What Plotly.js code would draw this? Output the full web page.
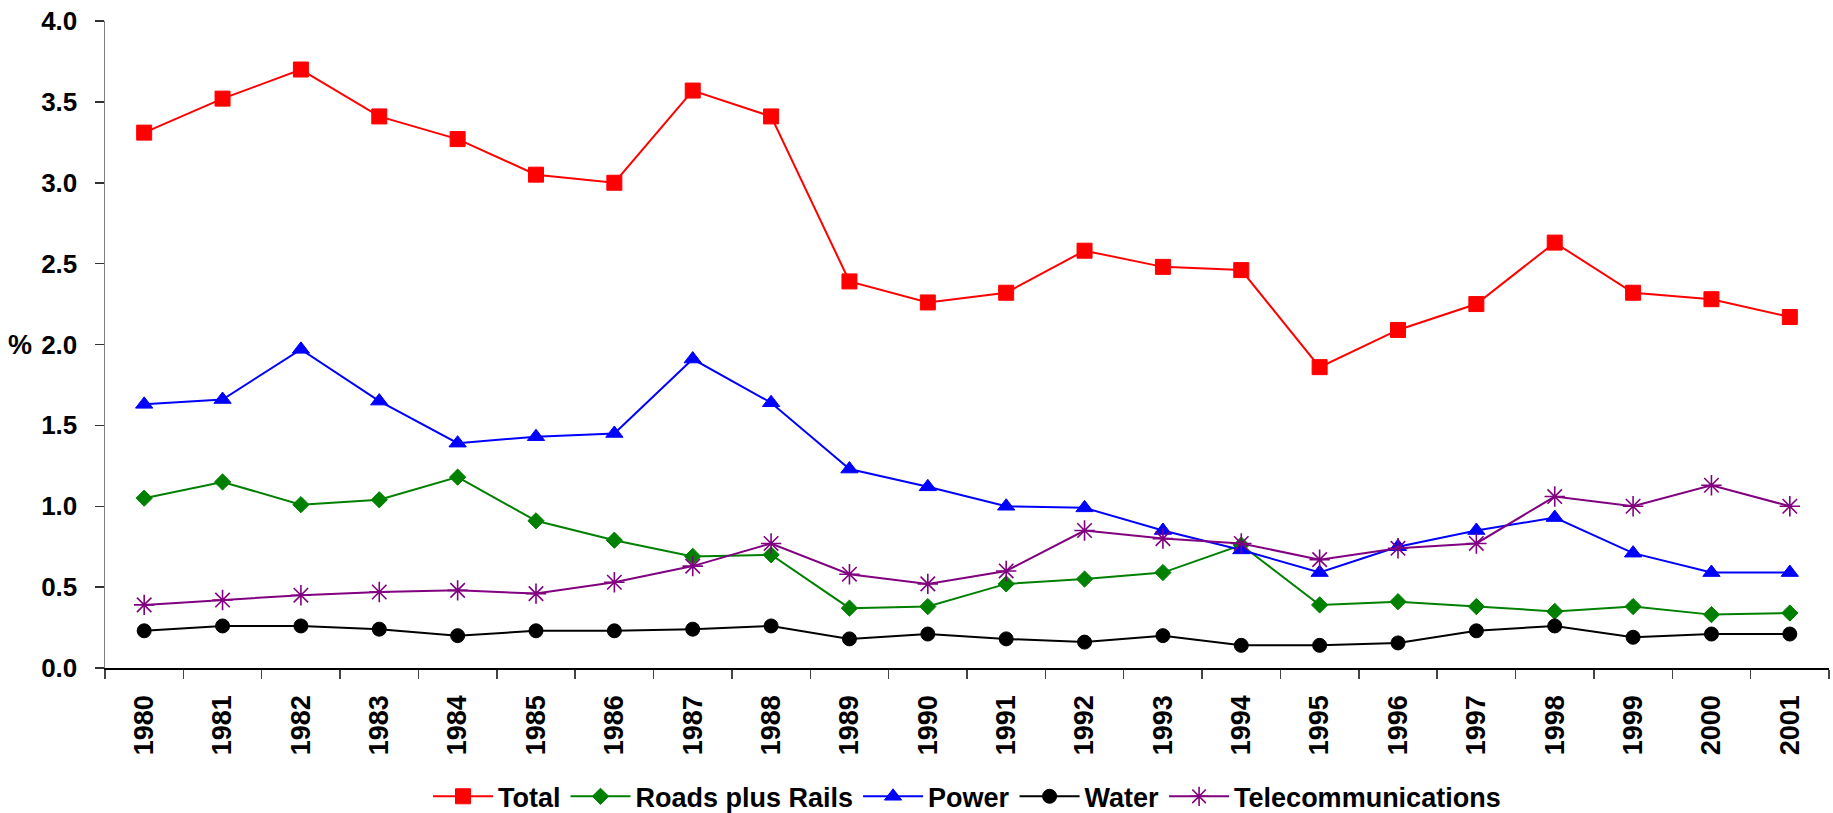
<!DOCTYPE html>
<html>
<head>
<meta charset="utf-8">
<script src="https://cdn.plot.ly/plotly-3.0.1.min.js"></script>
<style>html,body{margin:0;padding:0;background:#fff;}#chart{width:1833px;height:813px;}</style>
</head>
<body>
<div id="chart"></div>
<script>
const years = ["1980","1981","1982","1983","1984","1985","1986","1987","1988","1989","1990","1991","1992","1993","1994","1995","1996","1997","1998","1999","2000","2001"];
const total = [3.31,3.52,3.70,3.41,3.27,3.05,3.00,3.57,3.41,2.39,2.26,2.32,2.58,2.48,2.46,1.86,2.09,2.25,2.63,2.32,2.28,2.17];
const roads = [1.05,1.15,1.01,1.04,1.18,0.91,0.79,0.69,0.70,0.37,0.38,0.52,0.55,0.59,0.76,0.39,0.41,0.38,0.35,0.38,0.33,0.34];
const power = [1.63,1.66,1.97,1.65,1.39,1.43,1.45,1.91,1.64,1.23,1.12,1.00,0.99,0.85,0.73,0.59,0.75,0.85,0.93,0.71,0.59,0.59];
const water = [0.23,0.26,0.26,0.24,0.20,0.23,0.23,0.24,0.26,0.18,0.21,0.18,0.16,0.20,0.14,0.14,0.155,0.23,0.26,0.19,0.21,0.21];
const telecom = [0.39,0.42,0.45,0.47,0.48,0.46,0.53,0.63,0.77,0.58,0.52,0.60,0.85,0.80,0.77,0.67,0.74,0.77,1.06,1.00,1.13,1.00];

const FONT = "Liberation Sans, Arial, sans-serif";
function tr(name, y, color, symbol, size, lw) {
  return {
    type: "scatter", mode: "lines+markers", name: name, x: years, y: y,
    line: {color: color, width: 2},
    marker: {color: color, symbol: symbol, size: size, line: {color: color, width: lw}},
    cliponaxis: false
  };
}
const data = [
  tr("Total", total, "#ff0000", "square", 15, 1),
  tr("Roads plus Rails", roads, "#008000", "diamond", 12.5, 1),
  tr("Power", power, "#0000ff", "triangle-up", 15, 1),
  tr("Water", water, "#000000", "circle", 14, 1),
  tr("Telecommunications", telecom, "#800080", "asterisk-open", 17, 1.6)
];
const layout = {
  width: 1833, height: 813,
  margin: {l: 105, r: 4, t: 21, b: 145, autoexpand: false},
  paper_bgcolor: "#fff", plot_bgcolor: "#fff",
  font: {family: FONT, color: "#000", size: 26, weight: "bold"},
  showlegend: true,
  legend: {orientation: "h", xref: "paper", x: 0.5, xanchor: "center", yref: "container", y: 0.02, yanchor: "middle",
           font: {family: FONT, size: 27, weight: "bold", color: "#000"}, itemwidth: 60, tracegroupgap: 0},
  xaxis: {
    type: "category", showgrid: false, zeroline: false,
    showline: true, linecolor: "#000", linewidth: 1.5,
    ticks: "outside", tickson: "boundaries", ticklen: 9, tickcolor: "#444", tickwidth: 1.5,
    tickangle: -90, tickfont: {family: FONT, size: 27, weight: "bold", color: "#000"},
    ticklabelstandoff: 15,
    range: [-0.5, 21.5]
  },
  yaxis: {
    range: [0, 4], dtick: 0.5, tickformat: ".1f", showgrid: false, zeroline: false,
    showline: true, linecolor: "#808080", linewidth: 1.5,
    ticks: "outside", ticklen: 9, tickcolor: "#333", tickwidth: 1.5,
    ticklabelstandoff: 12,
    tickfont: {family: FONT, size: 26, weight: "bold", color: "#000"}
  },
  annotations: [{
    text: "%", xref: "paper", yref: "y", x: 0, y: 2.0, xanchor: "right", yanchor: "middle",
    xshift: -71, showarrow: false, font: {family: FONT, size: 27, weight: "bold", color: "#000"}
  }]
};
Plotly.newPlot("chart", data, layout, {displayModeBar: false, staticPlot: true});
</script>
</body>
</html>
